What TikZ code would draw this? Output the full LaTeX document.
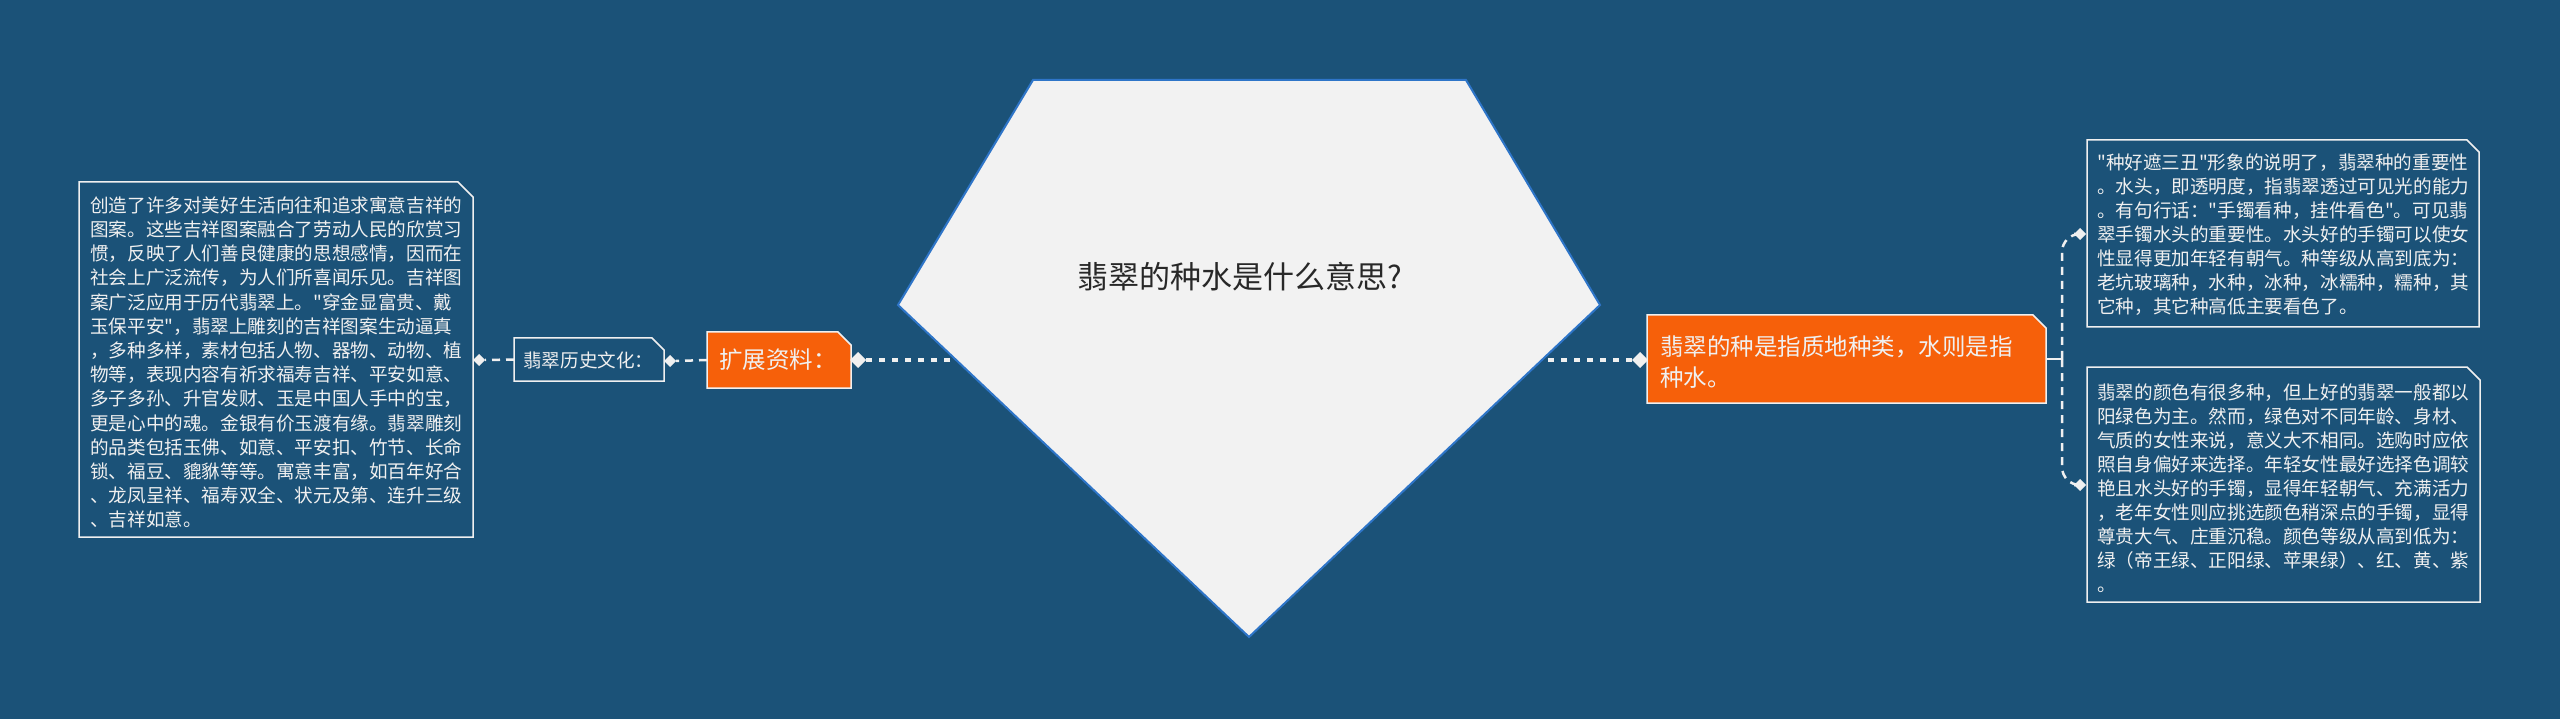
\documentclass[tikz,border=0pt]{standalone}
\usepackage{fontspec}
\setmainfont{Noto Sans CJK SC}[Ligatures=TeXOff]
\usetikzlibrary{shapes.geometric,calc}
\definecolor{bgc}{RGB}{27,82,120}
\definecolor{orng}{RGB}{246,96,10}
\definecolor{pentfill}{RGB}{242,242,242}
\definecolor{pentline}{RGB}{46,117,200}
\definecolor{wline}{RGB}{240,240,240}
\definecolor{titlec}{RGB}{40,40,40}
\pgfdeclarelayer{back}
\pgfdeclarelayer{mid}
\pgfsetlayers{back,mid,main}
\newcommand\cutbox[3]{%
  \filldraw[fill=#2, draw=wline, line width=1.5pt, line join=miter]
    (#1.north west) -- ($(#1.north east)+(-#3,0)$) -- ($(#1.north east)+(0,#3)$)
    -- (#1.south east) -- (#1.south west) -- cycle;}
\begin{document}
\begin{tikzpicture}[x=1pt,y=-1pt,
  area/.style={draw=none, fill=none, inner sep=0pt, outer sep=0pt, rectangle},
  smalltxt/.style={text=wline, font=\fontsize{18.6}{24.2}\selectfont, align=left, inner sep=0pt, anchor=west},
  rtxt/.style={text=wline, font=\fontsize{18.6}{24}\selectfont, align=left, inner sep=0pt, anchor=west},
  bigtxt/.style={text=wline, font=\fontsize{23.5}{31}\selectfont, align=left, inner sep=0pt, anchor=west},
  dmd/.style={diamond, fill=wline, draw=none, inner sep=0pt, outer sep=0pt},
  thindash/.style={draw=wline, line width=2.5pt, dash pattern=on 8pt off 6pt},
  thickdash/.style={draw=wline, line width=4pt, dash pattern=on 6pt off 7pt}]
\useasboundingbox (0,0) rectangle (2560,719);
\begin{pgfonlayer}{back}
\fill[bgc] (0,0) rectangle (2560,719);
\end{pgfonlayer}

% invisible box areas
\node[area, minimum width=394pt, minimum height=355pt] (LB) at (276,359.5) {};
\node[area, minimum width=150pt, minimum height=43pt] (H) at (589,359.5) {};
\node[area, minimum width=144pt, minimum height=56pt] (E) at (779,360) {};
\node[area, minimum width=399pt, minimum height=88pt] (R) at (1846.5,359) {};
\node[area, minimum width=392pt, minimum height=187pt] (RT) at (2283,233.5) {};
\node[area, minimum width=393pt, minimum height=235pt] (RB) at (2283.5,484.5) {};

% diamonds
\node[dmd, minimum width=12pt, minimum height=12pt] (dLB) at (479,360) {};
\node[dmd, minimum width=12pt, minimum height=12pt] (dH) at (670,361) {};
\node[dmd, minimum width=16pt, minimum height=16pt] (dE) at (858,360) {};
\node[dmd, minimum width=16pt, minimum height=16pt] (dR) at (1640,360) {};
\node[dmd, minimum width=12pt, minimum height=12pt] (dRT) at (2080,234) {};
\node[dmd, minimum width=12pt, minimum height=12pt] (dRB) at (2080,485) {};

% pentagon coordinates
\coordinate (P1) at (1033,80);
\coordinate (P2) at (1466,80);
\coordinate (P3) at (1600,305);
\coordinate (P4) at (1249,637);
\coordinate (P5) at (898,305);
\coordinate (PC) at (1249,360);
\coordinate (J) at (2062,359);

% connectors
\begin{pgfonlayer}{back}
\draw[thindash] (H.west) -- (dLB.east);
\draw[thindash] (E.west) -- (dH.east);
\draw[thickdash] (PC) -- (dE.east);
\draw[thickdash] (PC) -- (dR.west);
\draw[draw=wline, line width=2.5pt] (R.east) -- (J);
\draw[thindash, rounded corners=18pt] (J) |- (dRT.west);
\draw[thindash, rounded corners=18pt] (J) |- (dRB.west);
\end{pgfonlayer}

% shapes
\begin{pgfonlayer}{mid}
\filldraw[fill=pentfill, draw=pentline, line width=2pt, line join=miter] (P1) -- (P2) -- (P3) -- (P4) -- (P5) -- cycle;
\cutbox{LB}{bgc}{15}
\cutbox{H}{bgc}{12}
\cutbox{E}{orng}{13}
\cutbox{R}{orng}{13}
\cutbox{RT}{bgc}{12}
\cutbox{RB}{bgc}{13}
\end{pgfonlayer}

% texts
\node[text=titlec, font=\fontsize{31}{36}\selectfont, inner sep=0pt] (T) at (1240,277) {翡翠的种水是什么意思?};

\node[smalltxt] (LBt) at (90,362.5) {创造了许多对美好生活向往和追求寓意吉祥的\\%
图案。这些吉祥图案融合了劳动人民的欣赏习\\%
惯，反映了人们善良健康的思想感情，因而在\\%
社会上广泛流传，为人们所喜闻乐见。吉祥图\\%
案广泛应用于历代翡翠上。"穿金显富贵、戴\\%
玉保平安"，翡翠上雕刻的吉祥图案生动逼真\\%
，多种多样，素材包括人物、器物、动物、植\\%
物等，表现内容有祈求福寿吉祥、平安如意、\\%
多子多孙、升官发财、玉是中国人手中的宝，\\%
更是心中的魂。金银有价玉渡有缘。翡翠雕刻\\%
的品类包括玉佛、如意、平安扣、竹节、长命\\%
锁、福豆、貔貅等等。寓意丰富，如百年好合\\%
、龙凤呈祥、福寿双全、状元及第、连升三级\\%
、吉祥如意。};

\node[smalltxt] (Ht) at (523,360) {翡翠历史文化：};
\node[bigtxt] (Et) at (719,360) {扩展资料：};
\node[bigtxt] (Rt) at (1660,362) {翡翠的种是指质地种类，水则是指\\%
种水。};

\node[rtxt] (RTt) at (2097,235) {"种好遮三丑"形象的说明了，翡翠种的重要性\\%
。水头，即透明度，指翡翠透过可见光的能力\\%
。有句行话："手镯看种，挂件看色"。可见翡\\%
翠手镯水头的重要性。水头好的手镯可以使女\\%
性显得更加年轻有朝气。种等级从高到底为：\\%
老坑玻璃种，水种，冰种，冰糯种，糯种，其\\%
它种，其它种高低主要看色了。};

\node[rtxt] (RBt) at (2097,488) {翡翠的颜色有很多种，但上好的翡翠一般都以\\%
阳绿色为主。然而，绿色对不同年龄、身材、\\%
气质的女性来说，意义大不相同。选购时应依\\%
照自身偏好来选择。年轻女性最好选择色调较\\%
艳且水头好的手镯，显得年轻朝气、充满活力\\%
，老年女性则应挑选颜色稍深点的手镯，显得\\%
尊贵大气、庄重沉稳。颜色等级从高到低为：\\%
绿（帝王绿、正阳绿、苹果绿）、红、黄、紫\\%
。};
\end{tikzpicture}
\end{document}
